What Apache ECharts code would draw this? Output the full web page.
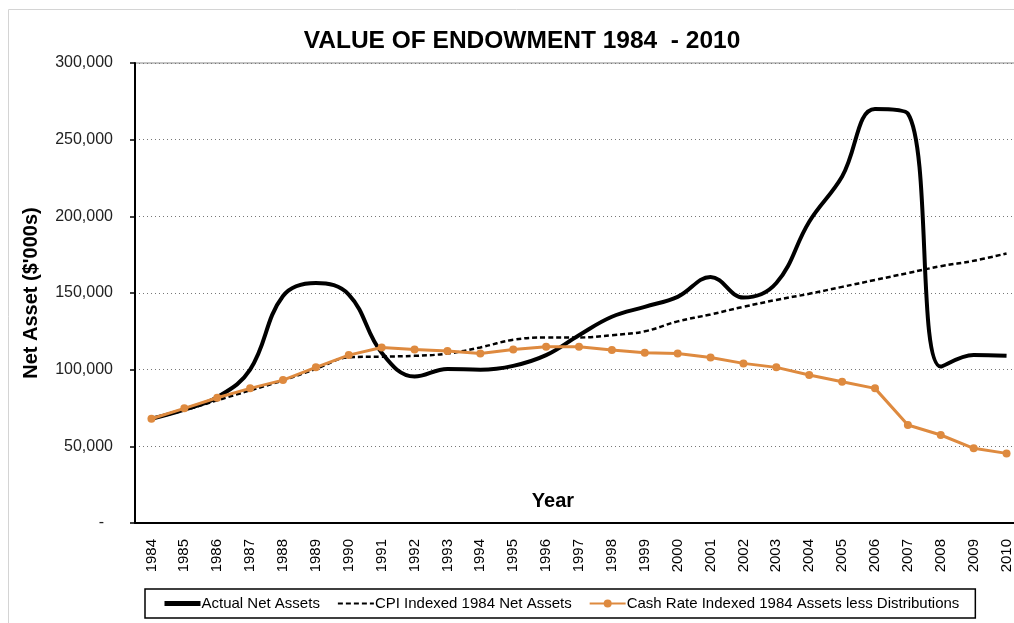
<!DOCTYPE html>
<html>
<head>
<meta charset="utf-8">
<script src="https://cdn.jsdelivr.net/npm/echarts@6/dist/echarts.min.js"></script>
<style>
  html, body { margin: 0; padding: 0; background: #fff; overflow: hidden; }
  /* wider than the window: the plot runs past the right edge as in the source picture */
  #chart { width: 1024px; height: 623px; }
</style>
</head>
<body>
<div id="chart"></div>
<script>
var years = ['1984','1985','1986','1987','1988','1989','1990','1991','1992','1993','1994','1995','1996','1997','1998','1999','2000','2001','2002','2003','2004','2005','2006','2007','2008','2009','2010'];
// $'000s
var actualNet = [68000, 74000, 82000, 100000, 148000, 156500, 149000, 111000, 95500, 100500, 100000, 102500, 109500, 122500, 134500, 141000, 147500, 160500, 147000, 156500, 196500, 226000, 270000, 267000, 102000, 109500, 109000];
var cpiIndexed = [68000, 73500, 80000, 86500, 93000, 100500, 108000, 108500, 109000, 110500, 114500, 119500, 121000, 121000, 122500, 125000, 131500, 136000, 141000, 145500, 149500, 154000, 158500, 163000, 167500, 171000, 175800];
var cashIndexed = [68000, 74800, 81700, 87800, 93200, 101500, 109500, 114500, 113200, 112100, 110600, 113200, 115000, 115000, 112800, 111000, 110600, 108000, 104100, 101500, 96500, 92100, 87800, 63900, 57400, 48700, 45400];

var font = "'Liberation Sans', Arial, sans-serif";
var orange = '#DE8A3F';
var hideMark = { color: 'rgba(0,0,0,0)', borderColor: 'rgba(0,0,0,0)', borderWidth: 0 };

var chart = echarts.init(document.getElementById('chart'));
var option = {
  animation: false,
  textStyle: { fontFamily: font },
  graphic: [
    {
      type: 'rect',
      shape: { x: 8.5, y: 9.5, width: 1030, height: 640 },
      style: { fill: 'none', stroke: '#d4d4d4', lineWidth: 1 },
      z: -1
    },
    {
      type: 'text',
      x: 522,
      y: 41,
      style: { text: 'VALUE OF ENDOWMENT 1984  - 2010', font: 'bold 24.5px ' + font, fill: '#000', align: 'center', verticalAlign: 'middle' },
      z: 10
    },
    {
      type: 'text',
      x: 553,
      y: 501,
      style: { text: 'Year', font: 'bold 20px ' + font, fill: '#000', align: 'center', verticalAlign: 'middle' },
      z: 10
    }
  ],
  grid: {
    left: 135,
    right: 1,
    top: 63,
    bottom: 100,
    show: true,
    borderColor: '#888',
    borderWidth: 1,
    backgroundColor: '#fff'
  },
  legend: {
    left: 145,
    top: 589,
    padding: [7, 16, 7, 17],
    borderColor: '#000',
    borderWidth: 1.5,
    itemWidth: 36,
    itemHeight: 10,
    itemGap: 17,
    textStyle: { fontFamily: font, fontSize: 15, color: '#000', padding: [0, 0, 0, -4] },
    data: [
      { name: 'Actual Net Assets', itemStyle: hideMark, lineStyle: { width: 5 } },
      { name: 'CPI Indexed 1984 Net Assets', itemStyle: hideMark },
      { name: 'Cash Rate Indexed 1984 Assets less Distributions' }
    ]
  },
  xAxis: {
    type: 'category',
    data: years,
    boundaryGap: true,
    axisLine: { lineStyle: { color: '#000', width: 2 } },
    axisTick: { alignWithLabel: false, length: 5, lineStyle: { color: '#000', width: 1.5 } },
    axisLabel: { rotate: 90, interval: 0, fontFamily: font, fontSize: 15, color: '#000', margin: 16 },
    splitLine: { show: false }
  },
  yAxis: {
    type: 'value',
    min: 0,
    max: 300000,
    interval: 50000,
    name: "Net Asset ($'000s)",
    nameLocation: 'middle',
    nameRotate: 90,
    nameGap: 94,
    nameTextStyle: { fontFamily: font, fontSize: 20, fontWeight: 'bold', color: '#000' },
    axisLine: { show: true, lineStyle: { color: '#000', width: 2 } },
    axisTick: { show: true, length: 5, lineStyle: { color: '#000', width: 1.5 } },
    axisLabel: {
      fontFamily: font, fontSize: 16, color: '#222', margin: 22,
      formatter: function (v) {
        if (v === 0) return '-  ';
        return v.toString().replace(/\B(?=(\d{3})+(?!\d))/g, ',');
      }
    },
    splitLine: { show: true, lineStyle: { color: '#777', width: 1, type: [1, 3] } }
  },
  series: [
    {
      name: 'Actual Net Assets',
      type: 'line',
      data: actualNet,
      smooth: 0.4,
      symbol: 'none',
      lineStyle: { color: '#000', width: 4 },
      itemStyle: { color: '#000' },
      z: 3
    },
    {
      name: 'CPI Indexed 1984 Net Assets',
      type: 'line',
      data: cpiIndexed,
      smooth: 0.4,
      symbol: 'none',
      lineStyle: { color: '#000', width: 2.5, type: [5, 3] },
      itemStyle: { color: '#000' },
      z: 2
    },
    {
      name: 'Cash Rate Indexed 1984 Assets less Distributions',
      type: 'line',
      data: cashIndexed,
      symbol: 'circle',
      symbolSize: 8,
      lineStyle: { color: orange, width: 3 },
      itemStyle: { color: orange },
      z: 4
    }
  ]
};
chart.setOption(option);
</script>
</body>
</html>
